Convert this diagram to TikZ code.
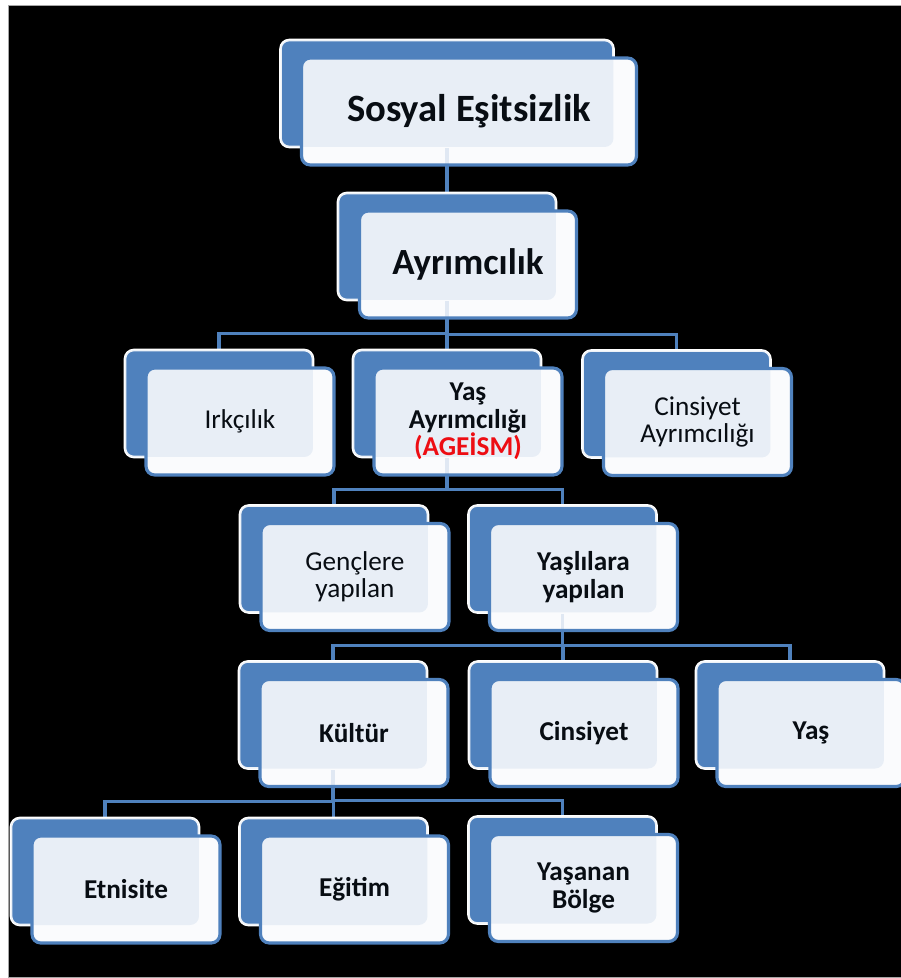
\documentclass[tikz,border=0pt]{standalone}
\usepackage{fontspec}
\setmainfont{Carlito}
\usetikzlibrary{positioning,backgrounds}
\definecolor{boxblue}{HTML}{4F81BD}
\definecolor{boxface}{HTML}{FAFBFD}

\begin{document}
\begin{tikzpicture}[x=0.02cm,y=-0.02cm,
	back/.style={rectangle,rounded corners=5pt,draw=white,line width=1.5pt,fill=boxblue,minimum width=3.76cm,minimum height=2.14cm,inner sep=0pt},
	front/.style={rectangle,rounded corners=5pt,draw=boxblue,line width=1.8pt,fill=boxface,minimum width=3.76cm,minimum height=2.14cm,inner sep=0pt,align=center,font=\fontsize{15.5}{15.6}\selectfont},
	tint/.style={back,draw=none,fill opacity=0.1},
	link/.style={draw=boxblue,line width=1.8pt}]
\useasboundingbox (0,0) rectangle (901,978);
\begin{scope}[on background layer]
\fill[white] (0,0) rectangle (901,978);
\fill[black] (8,5) rectangle (901,978);
\draw[gray!70,line width=0.6pt] (901,5.5) -- (8.5,5.5) -- (8.5,977.5) -- (901,977.5);
\end{scope}

% top two levels
\node[back,minimum width=6.66cm] (sosyal) at (447,93.5) {};
\node[front,minimum width=6.7cm,font=\fontsize{22}{24}\selectfont\bfseries] (fsosyal) at ([shift={(22,18)}]sosyal) {Sosyal Eşitsizlik};
\node[tint,minimum width=6.66cm] at (sosyal) {};
\node[back,minimum width=4.36cm] (ayrim) at (447,246.5) {};
\node[front,minimum width=4.34cm,font=\fontsize{21}{23}\selectfont\bfseries] (fayrim) at ([shift={(21,18)}]ayrim) {Ayrımcılık};
\node[tint,minimum width=4.36cm] at (ayrim) {};

% the other boxes
\foreach \n/\x/\y/\t in {
	irk/219/403.5/{Irkçılık},
	yasayr/447/403.5/{\textbf{Yaş}\\\textbf{Ayrımcılığı}\\\textcolor{red}{\textbf{(AGEİSM)}}},
	cinsayr/676.5/404/{Cinsiyet\\Ayrımcılığı},
	genc/334/559/{Gençlere\\yapılan},
	yasli/562.5/559/{\textbf{Yaşlılara}\\\textbf{yapılan}},
	kultur/333/715/{\textbf{Kültür}},
	cins/563/715/{\textbf{Cinsiyet}},
	yas/790/715/{\textbf{Yaş}},
	etni/105/871.5/{\textbf{Etnisite}},
	egitim/333.5/871.5/{\textbf{Eğitim}},
	bolge/562.5/870/{\textbf{Yaşanan}\\\textbf{Bölge}}}
{
	\node[back] (\n) at (\x,\y) {};
	\node[front] (f\n) at ([shift={(21,18)}]\n) {\t};
	\node[tint] at (\n) {};
}

% connectors
\begin{scope}[on background layer]
\foreach \p/\c in {sosyal/ayrim,ayrim/irk,ayrim/yasayr,ayrim/cinsayr,yasayr/genc,yasayr/yasli,yasli/kultur,yasli/cins,yasli/yas,kultur/etni,kultur/egitim,kultur/bolge}
	\draw[link] (\c.north) -- ++(0,-15) -| (\p.south);
\end{scope}
\foreach \p/\c in {sosyal/ayrim,ayrim/yasayr,yasayr/genc,yasli/kultur,kultur/etni}
	\draw[link,draw opacity=0.15] (\c.north) -- ++(0,-15) -| (\p.south);
\end{tikzpicture}
\end{document}
